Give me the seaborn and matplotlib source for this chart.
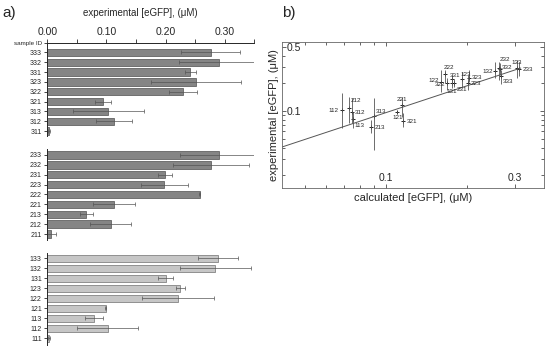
import numpy as np
import matplotlib
matplotlib.use("Agg")
import matplotlib.pyplot as plt
import seaborn as sns
from matplotlib.ticker import LogLocator, NullFormatter

# panel a: experimental [eGFP] per sample, three groups (top to bottom)
ids_3 = ["333", "332", "331", "323", "322", "321", "313", "312", "311"]
exp_3 = [0.276, 0.290, 0.242, 0.252, 0.229, 0.094, 0.103, 0.113, 0.003]
err_3 = [0.050, 0.068, 0.010, 0.076, 0.024, 0.014, 0.060, 0.030, 0.002]

ids_2 = ["233", "232", "231", "223", "222", "221", "213", "212", "211"]
exp_2 = [0.291, 0.277, 0.199, 0.198, 0.258, 0.113, 0.066, 0.107, 0.007]
err_2 = [0.066, 0.064, 0.011, 0.040, 0.001, 0.035, 0.011, 0.034, 0.007]

ids_1 = ["133", "132", "131", "123", "122", "121", "113", "112", "111"]
exp_1 = [0.289, 0.284, 0.200, 0.225, 0.221, 0.099, 0.079, 0.102, 0.003]
err_1 = [0.034, 0.060, 0.013, 0.008, 0.061, 0.001, 0.015, 0.052, 0.002]

# panel b: calculated vs experimental
sc_ids = ["112", "212", "312", "113", "313", "213", "221", "121", "321",
          "222", "122", "322", "331", "123", "323", "131", "231", "223",
          "132", "232", "332", "333", "133", "233"]
calc = [0.0686, 0.0730, 0.0747, 0.0753, 0.0898, 0.0880, 0.1143, 0.1101, 0.1159,
        0.1653, 0.1594, 0.1685, 0.1750, 0.1905, 0.2032, 0.1750, 0.1790, 0.2015,
        0.2530, 0.2618, 0.2640, 0.2656, 0.3043, 0.3110]
meas = [0.1025, 0.1086, 0.0968, 0.0819, 0.0889, 0.0675, 0.1162, 0.0983, 0.0785,
        0.2525, 0.2083, 0.2000, 0.2211, 0.2211, 0.2267, 0.2000, 0.2000, 0.2030,
        0.2740, 0.2930, 0.2840, 0.2400, 0.2910, 0.2860]
meas_lo = [0.0649, 0.0735, 0.0740, 0.0654, 0.0377, 0.0577, 0.0867, 0.0950, 0.0670,
           0.2010, 0.1592, 0.1690, 0.1917, 0.1823, 0.2066, 0.1779, 0.1823, 0.1690,
           0.2280, 0.2173, 0.2460, 0.1963, 0.2280, 0.2400]
meas_hi = [0.1557, 0.1430, 0.1385, 0.0975, 0.1385, 0.0798, 0.1430, 0.1010, 0.0950,
           0.2790, 0.2790, 0.2280, 0.2460, 0.2650, 0.2790, 0.2173, 0.2227, 0.2460,
           0.3400, 0.3400, 0.3320, 0.2790, 0.3580, 0.3400]
fit_x = [0.0412, 0.315]
fit_y = [0.0407, 0.293]

# label placement for panel b (dx, dy in pixels, alignment)
lab_pos = {
    "112": (-3, 0, "right"), "212": (7, 7, "center"), "312": (3, 0, "left"),
    "113": (2, -6, "left"), "313": (2, 4, "left"), "213": (4, -1, "left"),
    "221": (0, 6, "center"), "121": (0, -6, "center"), "321": (3, -1, "left"),
    "222": (4, 6, "center"), "122": (-2, 1, "right"), "322": (-2, -1, "right"),
    "331": (3, 4, "center"), "123": (4, 5, "center"), "323": (2, 1, "left"),
    "131": (0, -8, "center"), "231": (7, -6, "center"), "223": (2, -1, "left"),
    "132": (-2, -1, "right"), "232": (6, 9, "center"), "332": (2, 2, "left"),
    "333": (2, -5, "left"), "133": (0, 6, "center"), "233": (3, 0, "left"),
}

sns.set_style("ticks")
plt.rcParams["font.family"] = ["Liberation Sans", "DejaVu Sans"]

fig = plt.figure(figsize=(5.5, 3.5), dpi=100)

groups = [
    (ids_3, exp_3, err_3, "#858585", "#505050", 0.6114, 0.2657, (8.5, -0.95)),
    (ids_2, exp_2, err_2, "#858585", "#505050", 0.3143, 0.2600, (8.6, -0.6)),
    (ids_1, exp_1, err_1, "#c6c6c6", "#707070", 0.0143, 0.2620, (8.65, -0.5)),
]

for i, (ids, vals, errs, col, edge, bot, h, ylim) in enumerate(groups):
    ax = fig.add_axes([0.086, bot, 0.3764, h])
    sns.barplot(x=vals, y=ids, orient="h", color=col, saturation=1, width=0.75,
                edgecolor=edge, linewidth=0.5, ax=ax)
    ax.errorbar(vals, np.arange(len(ids)), xerr=errs, fmt="none", ecolor="#555555",
                elinewidth=0.5, capsize=1.2, capthick=0.5)
    ax.set_xlim(0, 0.35)
    ax.set_ylim(*ylim)
    ax.set_xlabel("")
    ax.set_ylabel("")
    for s in ["right", "bottom"]:
        ax.spines[s].set_visible(False)
    ax.spines["left"].set_linewidth(0.7)
    ax.tick_params(axis="y", labelsize=5, length=2.5, width=0.6, pad=1.5)
    if i == 0:
        ax.xaxis.tick_top()
        ticks = np.arange(0, 0.351, 0.05)
        ax.set_xticks(ticks)
        ax.set_xticklabels(["0.00", "", "0.10", "", "0.20", "", "0.30", ""])
        ax.tick_params(axis="x", labelsize=7.5, length=3, width=0.6, pad=1)
        ax.spines["top"].set_linewidth(0.7)
        ax.set_yticks(list(range(len(ids))) + [ylim[1]])
        ax.set_yticklabels(ids + ["sample ID"])
        ax.get_yticklabels()[-1].set_fontsize(4.5)
    else:
        ax.spines["top"].set_visible(False)
        ax.set_xticks([])

fig.text(0.256, 0.963, "experimental [eGFP], (\u03bcM)", ha="center", va="center", fontsize=7)
fig.text(0.005, 0.963, "a)", ha="left", va="center", fontsize=11)

# panel b
axr = fig.add_axes([0.513, 0.463, 0.476, 0.417])
axr.set_xscale("log")
axr.set_yscale("log")
axr.plot(fit_x, fit_y, color="#555555", lw=0.7)
meas_a = np.array(meas)
axr.errorbar(calc, meas, yerr=[meas_a - np.array(meas_lo), np.array(meas_hi) - meas_a],
             fmt="none", ecolor="#555555", elinewidth=0.6)
sns.scatterplot(x=calc, y=meas, ax=axr, color="black", s=7, marker="+", linewidth=0.6)
for sid, x, y in zip(sc_ids, calc, meas):
    dx, dy, ha = lab_pos[sid]
    axr.annotate(sid, (x, y), xytext=(dx, dy), textcoords="offset pixels",
                 ha=ha, va="center", fontsize=4.5)

axr.set_xlim(0.0412, 0.384)
axr.set_ylim(0.0146, 0.562)
axr.xaxis.set_minor_locator(LogLocator(base=10, subs=np.arange(2, 10)))
axr.yaxis.set_minor_locator(LogLocator(base=10, subs=np.arange(2, 10)))
axr.tick_params(which="both", direction="in", top=True, right=True, width=0.5)
axr.tick_params(which="major", length=3)
axr.tick_params(which="minor", length=2)
axr.tick_params(axis="y", labelsize=7.5, pad=-3)
axr.tick_params(axis="x", labelsize=7.5, pad=-3.5)
axr.set_xticks([0.1, 0.3])
axr.set_xticklabels(["0.1", "0.3"], va="bottom")
axr.set_yticks([0.1, 0.5])
axr.set_yticklabels(["0.1", "0.5"], ha="left")
axr.xaxis.set_minor_formatter(NullFormatter())
axr.yaxis.set_minor_formatter(NullFormatter())
for s in axr.spines.values():
    s.set_linewidth(0.6)
    s.set_color("#666666")
axr.set_xlabel("calculated [eGFP], (\u03bcM)", fontsize=8)
axr.set_ylabel("experimental [eGFP], (\u03bcM)", fontsize=8)
axr.xaxis.set_label_coords(0.5, -0.035)
axr.yaxis.set_label_coords(-0.012, 0.5)
fig.text(0.513, 0.963, "b)", ha="left", va="center", fontsize=11)

fig.savefig("out.png", dpi=100)
